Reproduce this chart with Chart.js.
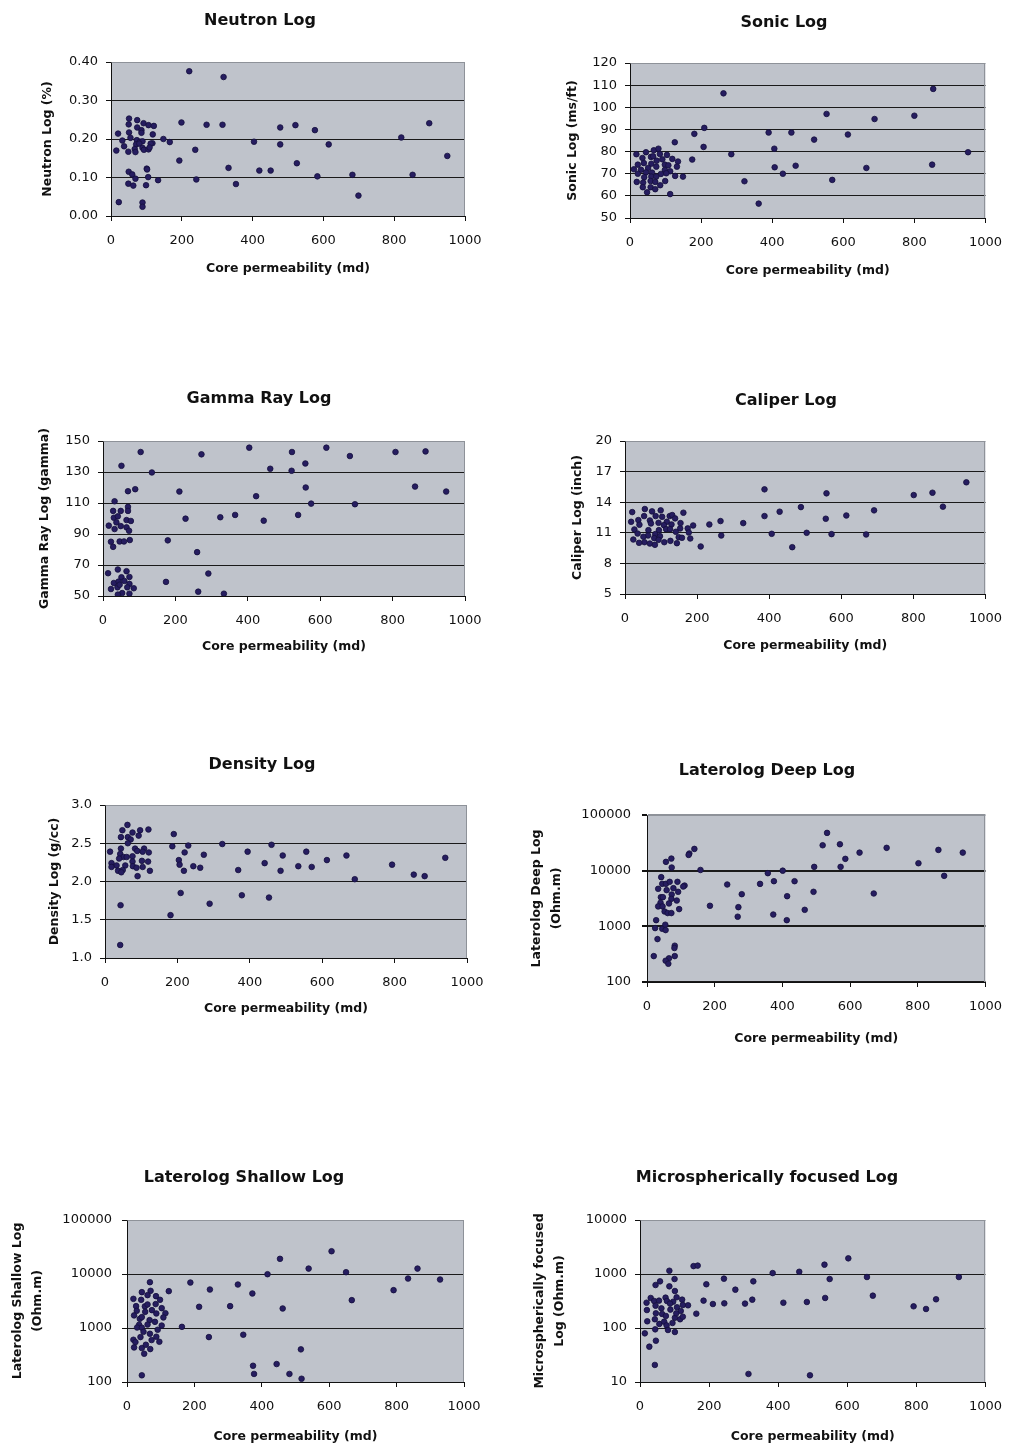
<!DOCTYPE html>
<html>
<head>
<meta charset="utf-8">
<title>Well log responses versus core permeability</title>
<script src="https://cdn.jsdelivr.net/npm/chart.js@4.4.1/dist/chart.umd.min.js"></script>
<style>
  html, body { margin: 0; padding: 0; background: #ffffff; }
  body { position: relative; width: 1014px; height: 1451px; overflow: hidden; }
  canvas { position: absolute; }
</style>
</head>
<body>
<canvas id="neutron"></canvas>
<canvas id="sonic"></canvas>
<canvas id="gamma"></canvas>
<canvas id="caliper"></canvas>
<canvas id="density"></canvas>
<canvas id="deep"></canvas>
<canvas id="shallow"></canvas>
<canvas id="micro"></canvas>
<script>
// ---- Shared x axis ----
const permTicks = [0, 200, 400, 600, 800, 1000];

// ---- Neutron log (fraction) vs core permeability (md) ----
const neutronPerm = [221,318,51,74,50,92,106,121,74,86,86,51,20,118,55,32,73,82,89,117,112,37,71,80,67,89,93,106,109,15,49,69,148,166,199,270,315,238,193,101,102,332,50,60,69,105,133,241,49,63,99,353,22,89,89,404,419,451,478,478,521,525,576,583,615,682,699,820,852,899,950];
const neutronLog = [0.376,0.361,0.253,0.249,0.238,0.241,0.236,0.234,0.230,0.223,0.216,0.217,0.214,0.212,0.203,0.196,0.197,0.193,0.194,0.189,0.188,0.181,0.186,0.188,0.174,0.177,0.172,0.173,0.178,0.170,0.167,0.166,0.200,0.192,0.243,0.237,0.237,0.172,0.144,0.123,0.121,0.125,0.115,0.108,0.097,0.101,0.093,0.095,0.084,0.079,0.080,0.083,0.036,0.035,0.024,0.193,0.118,0.118,0.230,0.186,0.236,0.137,0.223,0.103,0.186,0.107,0.053,0.204,0.107,0.241,0.156];
const neutronTicks = [0, 0.1, 0.2, 0.3, 0.4];

// ---- Sonic log (ms/ft) ----
const sonicPerm = [263,853,553,688,800,209,181,390,454,613,518,126,207,406,951,285,175,407,466,850,665,430,322,569,362,113,149,18,45,67,80,84,104,59,35,65,75,91,119,135,22,39,60,74,98,108,132,11,31,51,98,113,22,45,62,87,102,127,40,60,74,19,37,58,71,99,85,36,58,71,48];
const sonicLog = [106.3,108.3,97.0,94.7,96.2,90.7,88.0,88.6,88.6,87.7,85.4,84.2,82.1,81.3,79.7,78.8,76.4,72.9,73.6,74.1,72.6,70.0,66.6,67.2,56.5,60.8,68.7,78.8,79.7,80.6,81.3,78.9,78.5,77.6,77.1,77.9,75.9,76.5,76.7,75.5,74.1,74.8,74.5,73.2,74.1,73.8,73.2,72.0,71.8,72.6,71.7,71.1,70.0,70.6,70.5,69.9,70.2,69.0,68.4,68.7,68.7,66.3,66.0,66.7,66.3,66.7,64.8,63.9,63.9,63.0,61.6];
const sonicTicks = [50, 60, 70, 80, 90, 100, 110, 120];

// ---- Gamma ray log (gamma) ----
const gammaPerm = [104,272,404,522,617,682,808,891,51,135,462,521,559,862,948,69,89,211,423,560,575,696,32,28,49,69,69,30,41,37,65,77,16,49,32,65,72,228,324,365,444,539,22,28,46,58,74,179,260,291,174,263,334,14,41,65,51,73,30,43,59,73,22,40,46,67,85,53,41,73];
const gammaLog = [142.9,141.4,145.7,142.9,145.7,140.3,142.9,143.3,134.0,129.7,132.1,130.8,135.5,120.6,117.4,117.6,118.9,117.4,114.4,120.0,109.6,109.2,111.1,104.9,104.9,107.5,104.9,100.5,101.4,97.5,99.0,98.4,95.4,95.1,93.2,94.3,92.1,99.9,100.8,102.3,98.6,102.3,85.0,81.7,85.2,85.2,86.1,85.9,78.3,64.5,59.1,52.8,51.5,64.7,67.1,66.0,62.1,62.3,58.4,59.3,59.7,57.8,54.5,55.6,57.3,55.6,55.0,51.9,50.9,51.5];
const gammaTicks = [50, 70, 90, 110, 130, 150];

// ---- Caliper log (inch) ----
const caliperPerm = [947,853,801,882,387,559,691,488,429,387,557,614,407,504,573,669,464,210,234,265,267,328,189,174,177,181,162,20,55,75,99,53,85,103,124,131,139,17,37,69,93,116,154,40,72,108,129,153,26,65,94,114,125,141,35,64,84,97,51,149,158,23,54,39,69,83,81,93,109,126,144];
const caliperLog = [15.95,14.93,14.70,13.56,15.26,14.87,13.20,13.52,13.07,12.64,12.38,12.70,10.90,11.00,10.87,10.84,9.59,9.66,11.82,12.15,10.74,11.95,11.72,11.43,11.03,10.44,12.97,13.03,13.33,13.10,13.20,12.64,12.64,12.57,12.64,12.74,12.41,12.08,12.25,12.21,11.98,12.08,11.95,11.79,11.92,11.75,11.82,11.43,11.33,11.26,11.26,11.36,11.36,11.10,10.93,10.74,10.87,10.67,10.61,10.57,10.51,10.34,10.08,10.02,9.95,9.82,10.48,10.31,10.08,10.21,9.98];
const caliperTicks = [5, 8, 11, 14, 17, 20];

// ---- Density log (g/cc) ----
const densityPerm = [42,43,181,209,289,378,453,690,853,883,793,940,190,186,230,220,204,206,218,244,263,273,324,394,368,441,460,491,485,534,556,571,613,667,62,48,76,97,120,44,63,93,71,63,14,44,83,89,108,104,121,42,51,60,76,18,32,56,76,102,119,77,87,104,18,36,49,45,124,90,39];
const densityLog = [1.17,1.69,1.56,1.85,1.71,1.82,1.79,2.03,2.09,2.07,2.22,2.31,2.62,2.46,2.47,2.38,2.28,2.22,2.14,2.20,2.18,2.35,2.49,2.39,2.15,2.24,2.48,2.34,2.14,2.20,2.39,2.19,2.28,2.34,2.74,2.67,2.64,2.67,2.68,2.58,2.58,2.60,2.55,2.50,2.39,2.43,2.43,2.40,2.43,2.39,2.38,2.36,2.32,2.32,2.33,2.24,2.21,2.21,2.26,2.27,2.26,2.20,2.18,2.19,2.19,2.14,2.15,2.12,2.14,2.07,2.30];
const densityTicks = [1.0, 1.5, 2.0, 2.5, 3.0];

// ---- Laterolog deep (Ohm.m) ----
const deepPerm = [532,519,570,708,861,933,628,586,802,494,572,878,401,357,158,140,125,123,72,56,73,334,375,436,237,280,414,492,670,186,270,268,373,466,413,42,45,56,67,90,111,107,33,58,78,92,73,41,47,72,88,40,65,33,46,52,61,72,95,27,24,45,54,55,31,82,81,20,82,65,55,63];
const deepLog = [47700,28600,29800,25700,23600,21100,21100,16300,13600,11700,11700,8070,10000,9010,10300,24600,20300,19200,16500,14400,11400,5790,6470,6470,5640,3780,3480,4170,3890,2340,2210,1490,1630,1980,1290,7640,5800,5800,6300,6300,5400,5190,4720,4470,4850,4170,3730,3340,3340,3120,2910,2650,2580,2280,2280,1850,1730,1730,2040,1290,930,904,1070,856,590,449,408,292,292,266,241,213];
const deepTicks = [100, 1000, 10000, 100000];

// ---- Laterolog shallow (Ohm.m) ----
const shallowPerm = [607,454,539,650,417,862,834,929,791,667,329,372,246,188,124,68,214,306,462,163,243,345,516,374,377,444,482,518,44,44,70,19,42,61,86,98,27,53,61,85,103,29,54,74,87,114,21,38,44,67,108,36,61,83,103,30,44,49,91,68,40,87,19,25,73,96,21,44,56,69,51];
const shallowLog = [26400,19100,12600,10800,9910,12600,8240,7910,5020,3280,6380,4360,5160,6950,4810,7050,2470,2540,2300,1050,679,750,402,200,141,215,141,115,133,4610,4880,3470,3330,4060,3890,3330,2540,2510,2730,2770,2330,2080,1990,2140,1860,1880,1710,1480,1590,1400,1570,1150,1160,1300,1110,1020,1010,851,927,782,679,689,606,548,598,556,437,425,490,407,334];
const shallowTicks = [100, 1000, 10000, 100000];

// ---- Microspherically focused log (Ohm.m) ----
const microPerm = [603,534,461,384,657,923,549,328,243,192,276,155,167,85,100,674,857,792,828,536,483,415,325,304,244,211,184,163,139,314,492,43,27,14,46,58,45,85,101,31,19,41,55,74,78,96,106,122,45,62,87,107,124,88,118,20,46,64,75,101,105,116,124,43,21,56,70,94,77,44,81,101];
const microLog = [1950,1490,1100,1040,879,879,807,731,820,645,513,1400,1430,1150,807,397,340,252,225,360,303,294,335,283,286,278,321,184,263,14.1,13.3,20.7,45.1,79.6,58.2,731,625,591,484,360,294,316,321,365,316,307,370,335,259,231,283,242,267,219,207,215,187,182,167,155,187,145,162,145,133,119,131,124,112,94.4,91.8,84.3];
const microTicks = [10, 100, 1000, 10000];

// ---- Styling ----
const PLOT_BG = '#bfc3cb';
const FRAME = '#8e9299';
const GRID = '#1a1a1a';
const MARKER = '#261d60';
const MARKER_EDGE = '#140f3c';
const TITLE_FONT = { family: 'DejaVu Sans', size: 16, weight: 'bold', lineHeight: 1.2 };
const AXIS_TITLE_FONT = { family: 'DejaVu Sans', size: 12.5, weight: 'bold', lineHeight: 1.6 };
const X_TITLE_FONT = { family: 'DejaVu Sans', size: 12.5, weight: 'bold', lineHeight: 1.2 };
const TICK_FONT = { family: 'DejaVu Sans', size: 13, lineHeight: 1.2 };
const TICK_LEN = 5;

// Fills the plot area and outlines its top/right edges, as in a spreadsheet chart.
const plotFrame = {
  id: 'plotFrame',
  beforeDraw(chart) {
    const { ctx, chartArea: a } = chart;
    ctx.save();
    ctx.fillStyle = PLOT_BG;
    ctx.fillRect(a.left, a.top, a.right - a.left, a.bottom - a.top);
    ctx.restore();
  },
  beforeDatasetsDraw(chart) {
    const { ctx, chartArea: a } = chart;
    ctx.save();
    ctx.strokeStyle = FRAME;
    ctx.lineWidth = 1;
    ctx.beginPath();
    ctx.moveTo(Math.round(a.left) + 0.5, Math.round(a.top) + 0.5);
    ctx.lineTo(Math.round(a.right) - 0.5, Math.round(a.top) + 0.5);
    ctx.lineTo(Math.round(a.right) - 0.5, Math.round(a.bottom));
    ctx.stroke();
    ctx.restore();
  }
};

// Panel placement on the page: canvas box, title centre, plot area and axis-title anchors.
const panels = [
  { id: 'neutron', title: 'Neutron Log', yTitle: 'Neutron Log (%)', x: neutronPerm, y: neutronLog, ticks: neutronTicks, log: false, fmt: v => v.toFixed(2),
    box: 0, tx: 260, ty: 19, area: [111, 62, 465, 216], yTitleX: 48, xTitleY: 269, yPad: 8, gw: 1 },
  { id: 'sonic', title: 'Sonic Log', yTitle: 'Sonic Log (ms/ft)', x: sonicPerm, y: sonicLog, ticks: sonicTicks, log: false, fmt: v => String(v),
    box: 507, tx: 784, ty: 21, area: [630, 63, 989, 218], yTitleX: 573, xTitleY: 271, yPad: 8, gw: 1 },
  { id: 'gamma', title: 'Gamma Ray Log', yTitle: 'Gamma Ray Log (gamma)', x: gammaPerm, y: gammaLog, ticks: gammaTicks, log: false, fmt: v => String(v),
    box: 0, tx: 259, ty: 397, area: [103, 441, 465, 596], yTitleX: 45, xTitleY: 647, yPad: 8, gw: 1 },
  { id: 'caliper', title: 'Caliper Log', yTitle: 'Caliper Log (inch)', x: caliperPerm, y: caliperLog, ticks: caliperTicks, log: false, fmt: v => String(v),
    box: 507, tx: 786, ty: 399, area: [625, 441, 989, 594], yTitleX: 578, xTitleY: 646, yPad: 8, gw: 1 },
  { id: 'density', title: 'Density Log', yTitle: 'Density Log (g/cc)', x: densityPerm, y: densityLog, ticks: densityTicks, log: false, fmt: v => v.toFixed(1),
    box: 0, tx: 262, ty: 763, area: [105, 805, 467, 958], yTitleX: 55, xTitleY: 1009, yPad: 8, gw: 1 },
  { id: 'deep', title: 'Laterolog Deep Log', yTitle: ['Laterolog Deep Log', '(Ohm.m)'], x: deepPerm, y: deepLog, ticks: deepTicks, log: true, fmt: v => String(v),
    box: 507, tx: 767, ty: 769, area: [647, 815, 992, 982], yTitleX: 537, xTitleY: 1039, yPad: 11, gw: 2 },
  { id: 'shallow', title: 'Laterolog Shallow Log', yTitle: ['Laterolog Shallow Log', '(Ohm.m)'], x: shallowPerm, y: shallowLog, ticks: shallowTicks, log: true, fmt: v => String(v),
    box: 0, tx: 244, ty: 1176, area: [127, 1220, 464, 1382], yTitleX: 18, xTitleY: 1437, yPad: 10, gw: 1 },
  { id: 'micro', title: 'Microspherically focused Log', yTitle: ['Microspherically focused', 'Log (Ohm.m)'], x: microPerm, y: microLog, ticks: microTicks, log: true, fmt: v => String(v),
    box: 507, tx: 767, ty: 1176, area: [640, 1220, 989, 1382], yTitleX: 540, xTitleY: 1437, yPad: 8, gw: 1 }
];

const BOX_W = 507;

panels.forEach(p => {
  const [L, T, R, B] = p.area;
  const titleLH = TITLE_FONT.size * TITLE_FONT.lineHeight;
  const top = Math.round(p.ty - titleLH / 2 + 1.5);
  const titlePadBottom = T - top - titleLH;
  const padL = 2 * p.tx - R - p.box;
  const padR = p.box + BOX_W - R;
  const yWidth = L - p.box - padL;
  const xLH = X_TITLE_FONT.size * X_TITLE_FONT.lineHeight;
  const xHeight = p.xTitleY + xLH / 2 - B;
  const used = B + xHeight - top;
  const height = Math.ceil(used) + 2;
  const padB = height - used;
  const yTitleLH = AXIS_TITLE_FONT.size * AXIS_TITLE_FONT.lineHeight;
  const yTitlePad = p.yTitleX - p.box - padL - yTitleLH / 2;
  const yMin = p.ticks[0], yMax = p.ticks[p.ticks.length - 1];

  const canvas = document.getElementById(p.id);
  canvas.width = BOX_W;
  canvas.height = height;
  canvas.style.left = p.box + 'px';
  canvas.style.top = top + 'px';

  const yScale = {
    type: p.log ? 'logarithmic' : 'linear',
    min: yMin,
    max: yMax,
    afterBuildTicks: s => { s.ticks = p.ticks.map(v => ({ value: v })); },
    afterFit: s => { s.width = yWidth; },
    ticks: { font: TICK_FONT, color: '#111', padding: p.yPad, callback: v => p.fmt(v), autoSkip: false },
    grid: {
      color: c => (c.tick && c.tick.value >= yMax) ? FRAME : GRID,
      tickColor: '#111',
      lineWidth: p.gw,
      tickLength: TICK_LEN,
      drawTicks: true
    },
    border: { color: '#111', width: 1 },
    title: { display: true, text: p.yTitle, font: AXIS_TITLE_FONT, color: '#111', padding: { top: yTitlePad, bottom: 0 } }
  };

  new Chart(canvas, {
    type: 'scatter',
    data: {
      datasets: [{
        data: p.x.map((v, i) => ({ x: v, y: p.y[i] })),
        backgroundColor: MARKER,
        borderColor: MARKER_EDGE,
        borderWidth: 0.8,
        pointRadius: 2.8
      }]
    },
    options: {
      responsive: false,
      animation: false,
      devicePixelRatio: 1,
      layout: { padding: { left: padL, right: padR, top: 0, bottom: padB } },
      plugins: {
        legend: { display: false },
        tooltip: { enabled: false },
        title: { display: true, text: p.title, font: TITLE_FONT, color: '#111', padding: { top: 0, bottom: titlePadBottom } }
      },
      scales: {
        x: {
          type: 'linear',
          min: 0,
          max: 1000,
          afterBuildTicks: s => { s.ticks = permTicks.map(v => ({ value: v })); },
          afterFit: s => { s.height = xHeight; },
          ticks: { font: TICK_FONT, color: '#111', padding: 12, maxRotation: 0, autoSkip: false, callback: v => String(v) },
          grid: { drawOnChartArea: false, drawTicks: true, tickLength: TICK_LEN, color: '#111', tickColor: '#111' },
          border: { color: '#111', width: 1 },
          title: { display: true, text: 'Core permeability (md)', font: X_TITLE_FONT, color: '#111', padding: 0 }
        },
        y: yScale
      }
    },
    plugins: [plotFrame]
  });
});
</script>
</body>
</html>
